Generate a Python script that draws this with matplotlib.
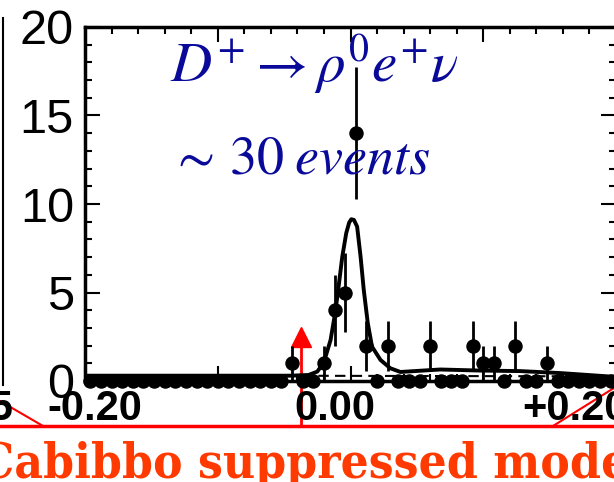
import numpy as np
import matplotlib.pyplot as plt
from matplotlib.ticker import MultipleLocator

plt.rcParams['mathtext.fontset'] = 'stix'
plt.rcParams['font.family'] = ['Liberation Sans', 'DejaVu Sans']

# candidates per bin, 50 bins between -0.1 and +0.1
bin_lo, bin_hi, n_bins = -0.1, 0.1, 50
counts = [0, 0, 0, 0, 0, 0, 0, 0, 0, 0,
          0, 0, 0, 0, 0, 0, 0, 0, 0, 1,
          0, 0, 1, 4, 5, 14, 2, 0, 2, 0,
          0, 0, 2, 0, 0, 0, 2, 1, 1, 0,
          2, 0, 0, 1, 0, 0, 0, 0, 0, 0]
errs = [0, 0, 0, 0, 0, 0, 0, 0, 0, 0,
        0, 0, 0, 0, 0, 0, 0, 0, 0, 1.0,
        0, 0, 1.0, 2.0, 2.24, 3.74, 1.41, 0, 1.41, 0,
        0, 0, 1.41, 0, 0, 0, 1.41, 1.0, 1.0, 0,
        1.41, 0, 0, 1.0, 0, 0, 0, 0, 0, 0]

# fitted curve (signal + background) and background alone
fit_x = [-0.100, -0.0225, -0.0158, -0.0125, -0.0102, -0.0094, -0.0075, -0.0056,
         -0.0045, -0.0031, -0.0016, -0.0005, 0.0003, 0.0013, 0.0025, 0.0038,
         0.0050, 0.0065, 0.0081, 0.0113, 0.0150, 0.0188, 0.0338, 0.0488,
         0.0638, 0.0788, 0.100]
fit_y = [0.30, 0.30, 0.34, 0.53, 1.02, 1.37, 2.32, 4.01,
         5.31, 7.02, 8.36, 8.95, 9.14, 9.10, 8.72, 7.02,
         5.14, 3.28, 1.94, 1.19, 0.72, 0.51, 0.65, 0.59,
         0.56, 0.45, 0.23]
bkg_x = [-0.100, 0.100]
bkg_y = [0.32, 0.26]

ytick_major = [0, 5, 10, 15, 20]
low_ticks = [-0.20, 0.00, 0.20]
low_labels = ['-0.20', '0.00', '+0.20']

edges = np.linspace(bin_lo, bin_hi, n_bins + 1)
centers = 0.5 * (edges[:-1] + edges[1:])
counts = np.array(counts)
errs = np.array(errs)

W, H = 614, 482
fig = plt.figure(figsize=(W / 100, H / 100), dpi=100)

# slide decorations drawn in pixel space
deco = fig.add_axes([0, 0, 1, 1], zorder=0)
deco.set_xlim(0, W)
deco.set_ylim(H, 0)
deco.axis('off')

ax = fig.add_axes([85 / W, (H - 381) / H, 531 / W, 354 / H], zorder=2)
ax.patch.set_alpha(0)

nz = counts > 0
ax.errorbar(centers[nz], counts[nz], yerr=errs[nz], fmt='none',
            ecolor='black', elinewidth=2.0, zorder=3, clip_on=False)
ax.plot(centers, counts, 'o', color='black', ms=9.4, zorder=4, clip_on=False)
ax.plot(fit_x, fit_y, '-', color='black', lw=2.8, zorder=3, solid_joinstyle='round')
ax.plot(bkg_x, bkg_y, '--', color='black', lw=1.5, dashes=(5, 3), zorder=2)

ax.set_xlim(bin_lo, bin_hi)
ax.set_ylim(0, 20)
ax.set_yticks(ytick_major)
ax.yaxis.set_minor_locator(MultipleLocator(1))
ax.xaxis.set_major_locator(MultipleLocator(0.05))
ax.xaxis.set_minor_locator(MultipleLocator(0.01))
ax.tick_params(which='both', direction='in', top=True, right=True,
               width=1.5, labelbottom=False)
ax.tick_params(which='major', length=11)
ax.tick_params(which='minor', length=5)
ax.tick_params(axis='y', labelsize=35, pad=8)
for s in ax.spines.values():
    s.set_linewidth(2.5)

ax.text(0.16, 0.845, r'$D^{+}\rightarrow\rho^{0}e^{+}\nu$', transform=ax.transAxes,
        fontsize=41, color='#0a0a9a')
ax.text(0.16, 0.585, r'$\sim\,30\;events$', transform=ax.transAxes,
        fontsize=39, color='#0a0a9a')

# edge of the neighbouring plot
deco.plot([3, 3], [18, 385], color='black', lw=1.5)

# lower scale labels
for v, lab in zip(low_ticks, low_labels):
    deco.text(335 + v * 1200, 420, lab, ha='center', va='baseline',
              fontsize=30, fontweight='bold')
deco.text(13, 420, '-0.25', ha='right', va='baseline', fontsize=30, fontweight='bold')

# zoom connector lines and marker arrow
red = '#ff0000'
deco.plot([0, W], [426, 426], color=red, lw=2.5)
deco.plot([0, 43], [401, 426], color=red, lw=1.5)
deco.plot([553, W], [426, 388], color=red, lw=1.5)
deco.plot([301, 301], [345, 426], color=red, lw=2)
deco.plot([301], [337], marker='^', color=red, ms=15)

deco.text(304, 478, 'Cabibbo suppressed mode', ha='center', va='baseline',
          fontsize=35.5, fontweight='bold', fontstretch='condensed',
          color='#ff3a00', family='DejaVu Serif')

fig.savefig('out.png', dpi=100)
